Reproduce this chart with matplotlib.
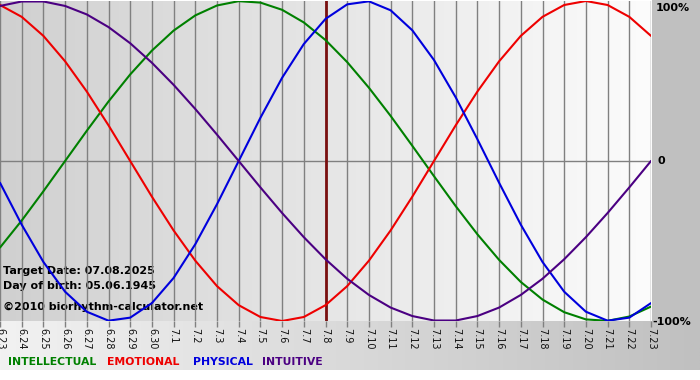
import numpy as np
import matplotlib
matplotlib.use("Agg")
import matplotlib.pyplot as plt
from matplotlib.patches import Rectangle

# days shown (month.day), target day is 7.8
days = ["6.23", "6.24", "6.25", "6.26", "6.27", "6.28", "6.29", "6.30",
        "7.1", "7.2", "7.3", "7.4", "7.5", "7.6", "7.7", "7.8", "7.9",
        "7.10", "7.11", "7.12", "7.13", "7.14", "7.15", "7.16", "7.17",
        "7.18", "7.19", "7.20", "7.21", "7.22", "7.23"]
target_day = "7.8"

# cycle values, one per day (-1 .. 1)
physical = [-0.136, -0.398, -0.631, -0.817, -0.942, -0.998, -0.979, -0.888,
            -0.731, -0.520, -0.270, 0.0, 0.270, 0.520, 0.731, 0.888, 0.979,
            0.998, 0.942, 0.817, 0.631, 0.398, 0.136, -0.136, -0.398, -0.631,
            -0.817, -0.942, -0.998, -0.979, -0.888]
emotional = [0.975, 0.901, 0.782, 0.623, 0.434, 0.223, 0.0, -0.223, -0.434,
             -0.623, -0.782, -0.901, -0.975, -1.0, -0.975, -0.901, -0.782,
             -0.623, -0.434, -0.223, 0.0, 0.223, 0.434, 0.623, 0.782, 0.901,
             0.975, 1.0, 0.975, 0.901, 0.782]
intellectual = [-0.541, -0.372, -0.189, 0.0, 0.189, 0.372, 0.541, 0.690,
                0.815, 0.910, 0.972, 0.999, 0.990, 0.945, 0.866, 0.756, 0.618,
                0.458, 0.282, 0.095, -0.095, -0.282, -0.458, -0.618, -0.756,
                -0.866, -0.945, -0.990, -0.999, -0.972, -0.910]
intuitive = [0.969, 0.997, 0.997, 0.969, 0.916, 0.837, 0.736, 0.614, 0.476,
             0.325, 0.165, 0.0, -0.165, -0.325, -0.476, -0.614, -0.736, -0.837,
             -0.916, -0.969, -0.997, -0.997, -0.969, -0.916, -0.837, -0.736,
             -0.614, -0.476, -0.325, -0.165, 0.0]

series = [("INTELLECTUAL", intellectual, "#008000"),
          ("EMOTIONAL", emotional, "#ee0000"),
          ("PHYSICAL", physical, "#0000dd"),
          ("INTUITIVE", intuitive, "#4b0082")]

W, H = 700, 380
fig = plt.figure(figsize=(W / 100, H / 100), dpi=100)
fig.patch.set_facecolor("white")

# background, in pixel coords
bg = fig.add_axes([0, 0, 1, 1], zorder=0)
bg.axis("off")
bg.add_patch(Rectangle((652, 0), 48, 321, color="#c0c0c0", lw=0))
grad = np.linspace(0, 1, 256).reshape(1, -1)[..., None]
bottom = np.array([0xf2] * 3) / 255 * (1 - grad) + np.array([0xc0] * 3) / 255 * grad
bg.imshow(bottom, extent=(0, W, 370, 321), aspect="auto")
plotbg = np.array([0xd0] * 3) / 255 * (1 - grad) + np.array([0xfc] * 3) / 255 * grad
bg.imshow(plotbg, extent=(0, 652, 321, 1), aspect="auto")
bg.set_xlim(0, W)
bg.set_ylim(H, 0)

ax = fig.add_axes([0, 1 - 321 / H, 651 / W, 320 / H], zorder=1)
ax.patch.set_alpha(0)
x = np.arange(len(days))
ax.set_xlim(0, len(days) - 1)
ax.set_ylim(-1.0, 1.0)

for xi in x:
    ax.axvline(xi, color="#808080", lw=1.0, zorder=1)
ax.axhline(0, color="#808080", lw=1.0, zorder=1)
ax.axvline(days.index(target_day), color="#7a1010", lw=2.0, zorder=2)

for name, vals, col in series:
    ax.plot(x, vals, color=col, lw=1.5, zorder=3, solid_capstyle="round",
            solid_joinstyle="round")

for s in ax.spines.values():
    s.set_visible(False)
ax.set_yticks([])
ax.set_xticks(x)
ax.set_xticklabels(days, rotation=-90, fontsize=7, color="#111111")
ax.tick_params(axis="x", length=4, width=1, color="#808080", pad=1)
for lbl in ax.get_xticklabels():
    lbl.set_verticalalignment("top")

# right side labels
for xp, yp, txt in [(656, 8, "100%"), (657, 161, "0"), (652, 322, "-100%")]:
    bg.text(xp, yp, txt, fontsize=8, fontweight="bold", va="center", ha="left")

# info text
info = [(271, "Target Date: 07.08.2025"), (286, "Day of birth: 05.06.1945"),
        (307, "\u00a92010 biorhythm-calculator.net")]
for yp, txt in info:
    bg.text(3, yp, txt, fontsize=8, fontweight="bold", va="center", ha="left")

# legend row
xpos = [8, 107, 193, 262]
for (name, vals, col), xp in zip(series, xpos):
    bg.text(xp, 362, name, color=col, fontsize=7.8, fontweight="bold",
            va="center", ha="left")

fig.savefig("out.png", dpi=100)
